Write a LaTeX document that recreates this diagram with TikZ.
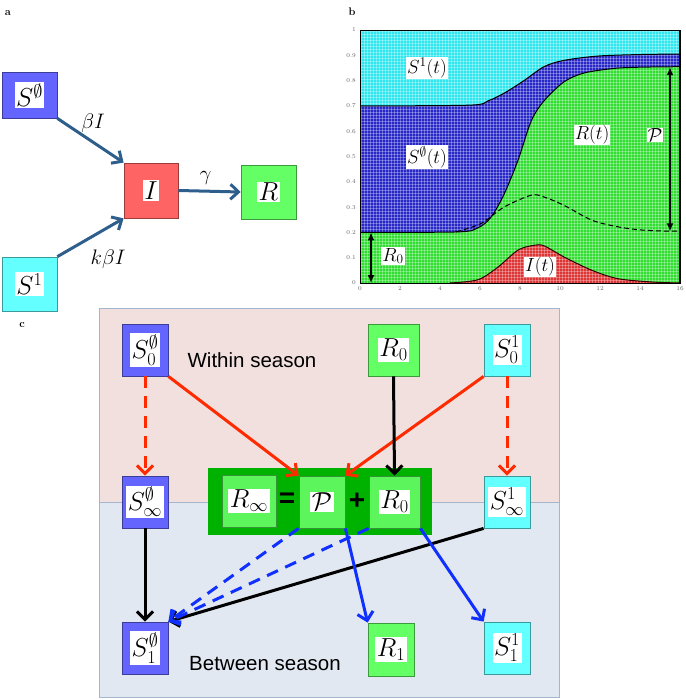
\RequirePackage{fix-cm}
\documentclass[tikz,border=0pt]{standalone}
\usepackage{fontspec}
\usepackage{amsmath,amssymb}
\usepackage{xcolor}
\usetikzlibrary{arrows.meta,positioning}
\newfontfamily\seasonfont{Liberation Sans}
\definecolor{sblue}{HTML}{6464FF}
\definecolor{sred}{HTML}{FF6464}
\definecolor{sgreen}{HTML}{64FF64}
\definecolor{scyan}{HTML}{64FFFF}
\definecolor{eqgreen}{HTML}{00B200}
\definecolor{inngreen}{HTML}{5CF55C}
\definecolor{flowblue}{HTML}{2E5E8C}
\definecolor{cred}{HTML}{FF2A00}
\definecolor{cblue}{HTML}{1030FF}
\definecolor{pink}{HTML}{F2E0DE}
\definecolor{greyblue}{HTML}{E2E8F1}
\definecolor{frame}{HTML}{A3B6CE}
\definecolor{pcyan}{HTML}{30E6EE}
\definecolor{pblue}{HTML}{2828C8}
\definecolor{pgreen}{HTML}{30DD30}
\definecolor{pred}{HTML}{DD3535}
\newcommand{\wbox}[1]{{\setlength{\fboxsep}{1.5pt}\colorbox{white}{$#1$}}}

\begin{document}
\begin{tikzpicture}[x=1pt, y=-1pt,
  cmp/.style={draw=#1!60!black, fill=#1, line width=0.8pt, inner sep=0pt, font=\fontsize{26}{28}\selectfont},
  flow/.style={draw=flowblue, line width=3pt, -{Straight Barb[length=8pt,width=15pt]}},
  arr/.style={draw=#1, line width=3pt, -{Straight Barb[length=8pt,width=16pt]}},
  brk/.style={dash pattern=on 12pt off 8pt},
  lbl/.style={font=\fontsize{21}{23}\selectfont},
  tag/.style={font=\fontsize{11}{12}\selectfont\bfseries},
  plbl/.style={fill=white, inner sep=1pt, font=\fontsize{19}{21}\selectfont},
  tck/.style={font=\fontsize{6}{7}\selectfont, text=black!60, inner sep=1pt}]
  \useasboundingbox (0,0) rectangle (685,700);

  % panel a
  \node[tag] (taga) at (8,13) {a};
  \node[cmp=sblue, minimum width=55pt, minimum height=46pt] (se) at (29.5,95) {\wbox{S^{\emptyset}}};
  \node[cmp=sred, minimum width=54pt, minimum height=55pt] (inf) at (151,190.5) {\wbox{I}};
  \node[cmp=sgreen, minimum width=55pt, minimum height=54pt] (rec) at (268.5,192) {\wbox{R}};
  \node[cmp=scyan, minimum width=55pt, minimum height=54pt] (s1) at (29.5,284) {\wbox{S^{1}}};
  \draw[flow] (se.south east) -- node[lbl, above=1pt, pos=0.45, xshift=6pt] (bi) {$\beta I$} (inf.north west);
  \draw[flow] (s1.north east) -- node[lbl, below right=0pt and 0pt, pos=0.55, xshift=-8pt, yshift=-9pt] (kbi) {$k\beta I$} (inf.south west);
  \draw[flow] (inf.east) -- node[lbl, above=2pt, xshift=-4pt] (gam) {$\gamma$} (rec.west);

  % panel b
  \node[tag] (tagb) at (352,12) {b};
  \begin{scope}
    \clip (360,30) rectangle (680,283);
    \fill[pcyan] (360,30) rectangle (680,283);
    \begin{scope}[shift={(360pt,-283pt)}, x=20pt, y=253pt]
      \fill[pblue] plot[smooth] coordinates {(0,0.70) (5.5,0.703) (6.4,0.72) (7.2,0.75) (8.2,0.80) (9.2,0.855) (10.2,0.88) (11.9,0.897) (14,0.903) (16,0.905)} -- (16,0) -- (0,0) -- cycle;
      \fill[pgreen] plot[smooth] coordinates {(0,0.2) (4.9,0.202) (5.9,0.218) (6.55,0.26) (7.2,0.35) (7.9,0.485) (8.56,0.64) (9.2,0.72) (10.2,0.795) (11.2,0.83) (12.7,0.848) (14,0.853) (16,0.855)} -- (16,0) -- (0,0) -- cycle;
      \fill[pred] plot[smooth] coordinates {(4.5,0) (5.9,0.013) (6.9,0.063) (7.9,0.13) (8.7,0.149) (9.2,0.147) (10.2,0.103) (11.6,0.05) (12.9,0.017) (14.6,0.004) (16,0)} -- cycle;
    \end{scope}
    \foreach \gx in {361,364,...,679}
      \draw[white, opacity=0.3, line width=0.5pt] (\gx,30) -- (\gx,283);
    \foreach \gy in {31,34,...,283}
      \draw[white, opacity=0.3, line width=0.5pt] (360,\gy) -- (680,\gy);
  \end{scope}
  \begin{scope}[shift={(360pt,-283pt)}, x=20pt, y=253pt]
    \draw[line width=1pt] plot[smooth] coordinates {(0,0.70) (5.5,0.703) (6.4,0.72) (7.2,0.75) (8.2,0.80) (9.2,0.855) (10.2,0.88) (11.9,0.897) (14,0.903) (16,0.905)};
    \draw[line width=1pt] plot[smooth] coordinates {(0,0.2) (4.9,0.202) (5.9,0.218) (6.55,0.26) (7.2,0.35) (7.9,0.485) (8.56,0.64) (9.2,0.72) (10.2,0.795) (11.2,0.83) (12.7,0.848) (14,0.853) (16,0.855)};
    \draw[line width=1pt, dash pattern=on 5pt off 3pt] plot[smooth] coordinates {(4.8,0.202) (6.05,0.235) (7.2,0.30) (8.56,0.347) (9.2,0.34) (10.2,0.307) (11.6,0.248) (12.9,0.222) (14,0.21) (15.25,0.205) (16,0.205)};
    \draw[line width=1pt, draw=black!80!red] plot[smooth] coordinates {(4.5,0) (5.9,0.013) (6.9,0.063) (7.9,0.13) (8.7,0.149) (9.2,0.147) (10.2,0.103) (11.6,0.05) (12.9,0.017) (14.6,0.004) (16,0)};
    \coordinate (ptop) at (15.5,0.853);
    \coordinate (pbot) at (15.5,0.204);
    \coordinate (rtop) at (0.55,0.2);
    \coordinate (rbot) at (0.55,0);
    \foreach \v/\t in {0/0,0.1/0.1,0.2/0.2,0.3/0.3,0.4/0.4,0.5/0.5,0.6/0.6,0.7/0.7,0.8/0.8,0.9/0.9,1/1}
      \node[tck, anchor=east] (yt\t) at (-0.15,\v) {\t};
    \foreach \u in {0,2,...,16}
      \node[tck, anchor=north] (xt\u) at (\u,-0.01) {\u};
  \end{scope}
  \draw[line width=0.6pt] (360,30) rectangle (680,283);
  \draw[line width=1.4pt] (680,30) -- (680,283);
  \draw[line width=2.2pt, {Latex[length=8pt,width=7pt]}-{Latex[length=8pt,width=7pt]}] (ptop) -- (pbot);
  \draw[line width=2.2pt, {Latex[length=8pt,width=7pt]}-{Latex[length=8pt,width=7pt]}] (rtop) -- (rbot);
  \node[plbl] (s1t) at (427,68) {$S^{1}(t)$};
  \node[plbl] (set) at (427,157) {$S^{\emptyset}(t)$};
  \node[plbl] (rt) at (592,135) {$R(t)$};
  \node[plbl] (pp) at (655,135) {$\mathcal{P}$};
  \node[plbl] (rz) at (393,256) {$R_0$};
  \node[plbl] (it) at (540,267) {$I(t)$};

  % panel c
  \node[tag] (tagc) at (22,325) {c};
  \fill[pink] (99,308) rectangle (559,502);
  \fill[greyblue] (99,502) rectangle (559,697);
  \draw[frame, line width=1pt] (99,308) rectangle (559,697);
  \draw[frame, line width=1pt] (99,502) -- (559,502);
  \node[font=\seasonfont\fontsize{20.5}{22}\selectfont] (within) at (252,360) {Within season};
  \node[font=\seasonfont\fontsize{20.5}{22}\selectfont] (between) at (265,664) {Between season};

  \node[cmp=sblue, minimum width=46pt, minimum height=52pt] (s0e) at (145,350) {\wbox{S_0^{\emptyset}}};
  \node[cmp=sgreen, minimum width=51pt, minimum height=52pt] (r0a) at (393.5,350) {\wbox{R_0}};
  \node[cmp=scyan, minimum width=46pt, minimum height=52pt] (s01) at (507,350) {\wbox{S_0^{1}}};
  \node[cmp=sblue, minimum width=46pt, minimum height=52pt] (sie) at (145,502) {\wbox{S_\infty^{\emptyset}}};
  \node[cmp=scyan, minimum width=46pt, minimum height=52pt] (si1) at (507,502) {\wbox{S_\infty^{1}}};
  \node[fill=eqgreen, minimum width=224pt, minimum height=67pt] (eq) at (320,501.5) {};
  \node[cmp=inngreen, minimum width=54pt, minimum height=52pt] (rinf) at (249,501) {\wbox{R_\infty}};
  \node[cmp=inngreen, minimum width=46pt, minimum height=52pt] (pc) at (322,502) {\wbox{\mathcal{P}}};
  \node[cmp=inngreen, minimum width=51pt, minimum height=52pt] (r0b) at (394.5,502) {\wbox{R_0}};
  \node[font=\seasonfont\bfseries\fontsize{28}{30}\selectfont] (eqs) at (287,500) {=};
  \node[font=\seasonfont\bfseries\fontsize{28}{30}\selectfont] (pls) at (357,501) {+};
  \node[cmp=sblue, minimum width=46pt, minimum height=52pt] (s1e) at (145,648) {\wbox{S_1^{\emptyset}}};
  \node[cmp=sgreen, minimum width=46pt, minimum height=53pt] (r1) at (391,649.5) {\wbox{R_1}};
  \node[cmp=scyan, minimum width=46pt, minimum height=52pt] (s11) at (507,648) {\wbox{S_1^{1}}};

  \draw[arr=cred, brk] (s0e.south) -- (sie.north);
  \draw[arr=cred, brk] (s01.south) -- (si1.north);
  \draw[arr=cred] (s0e.south east) -- (pc.north west);
  \draw[arr=cred] (s01.south west) -- (pc.north east);
  \draw[arr=black] (r0a.south) -- (r0b.north);
  \draw[arr=black] (sie.south) -- (s1e.north);
  \draw[arr=black] (si1.south west) -- (s1e.north east);
  \draw[arr=cblue, brk] (pc.south west) -- (s1e.north east);
  \draw[arr=cblue, brk] (r0b.south west) -- (s1e.north east);
  \draw[arr=cblue] (pc.south east) -- (r1.north west);
  \draw[arr=cblue] (r0b.south east) -- (s11.north west);
\end{tikzpicture}
\end{document}
